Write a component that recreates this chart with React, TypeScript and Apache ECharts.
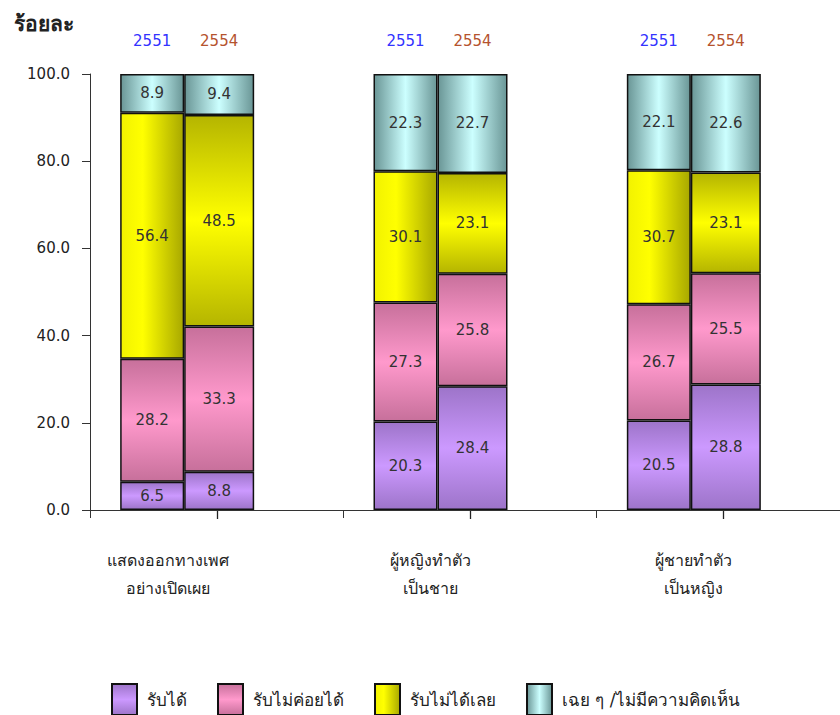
import React, { useEffect, useRef } from "react";
import * as echarts from "echarts";

const categories = [
  "แสดงออกทางเพศ\nอย่างเปิดเผย",
  "ผู้หญิงทำตัว\nเป็นชาย",
  "ผู้ชายทำตัว\nเป็นหญิง",
];
const years = ["2551", "2554"];
const responses = ["รับได้", "รับไม่ค่อยได้", "รับไม่ได้เลย", "เฉย ๆ /ไม่มีความคิดเห็น"];

const accept2551 = [6.5, 20.3, 20.5];
const accept2554 = [8.8, 28.4, 28.8];
const rarely2551 = [28.2, 27.3, 26.7];
const rarely2554 = [33.3, 25.8, 25.5];
const notAccept2551 = [56.4, 30.1, 30.7];
const notAccept2554 = [48.5, 23.1, 23.1];
const neutral2551 = [8.9, 22.3, 22.1];
const neutral2554 = [9.4, 22.7, 22.6];

const yTicks = [0, 20, 40, 60, 80, 100];

const FONT = "Tahoma, 'DejaVu Sans', 'Noto Sans', sans-serif";

const vGrad = (dark: string, light: string) =>
  new echarts.graphic.LinearGradient(0, 0, 0, 1, [
    { offset: 0, color: dark },
    { offset: 0.5, color: light },
    { offset: 1, color: dark },
  ]);
const hGrad = (dark: string, light: string) =>
  new echarts.graphic.LinearGradient(0, 0, 1, 0, [
    { offset: 0, color: dark },
    { offset: 0.5, color: light },
    { offset: 1, color: dark },
  ]);
const yellowH = new echarts.graphic.LinearGradient(0, 0, 1, 0, [
  { offset: 0, color: "#f2f200" },
  { offset: 0.35, color: "#ffff00" },
  { offset: 1, color: "#a8a800" },
]);

const fills2551 = [
  vGrad("#9d74c9", "#cc99ff"),
  vGrad("#c7709b", "#ff99cc"),
  yellowH,
  hGrad("#6a9696", "#ccffff"),
];
const fills2554 = [
  vGrad("#9d74c9", "#cc99ff"),
  vGrad("#c7709b", "#ff99cc"),
  vGrad("#b5b500", "#ffff00"),
  hGrad("#6a9696", "#ccffff"),
];

export default function App() {
  const ref = useRef<HTMLDivElement>(null);
  useEffect(() => {
    if (!ref.current) return;
    const chart = echarts.init(ref.current, undefined, { renderer: "svg" });
    const data2551 = [accept2551, rarely2551, notAccept2551, neutral2551];
    const data2554 = [accept2554, rarely2554, notAccept2554, neutral2554];
    const widths: Record<string, number> = { "2551": 64, "2554": 70 };

    const segLabel = {
      show: true,
      position: "inside",
      color: "#333",
      fontSize: 15,
      fontFamily: FONT,
      formatter: (p: any) => Number(p.value).toFixed(1),
    };

    const mk = (year: string, datasets: number[][], fills: any[]) =>
      datasets.map((d, i) => ({
        type: "bar",
        name: responses[i],
        stack: year,
        barWidth: widths[year],
        barGap: "0%",
        data: d,
        itemStyle: { color: fills[i], borderColor: "#111", borderWidth: 1.5 },
        label: segLabel,
        emphasis: { disabled: true },
      }));

    const yearColors: Record<string, string> = { "2551": "#3333ff", "2554": "#b5532e" };
    const yearSeries = years.map((y) => ({
      type: "bar",
      name: "y" + y,
      stack: y,
      barWidth: widths[y],
      barGap: "0%",
      data: categories.map(() => 0),
      itemStyle: { color: "transparent", borderWidth: 0 },
      label: {
        show: true,
        position: "top",
        distance: 26,
        color: yearColors[y],
        fontSize: 15,
        fontFamily: FONT,
        formatter: () => y,
      },
      silent: true,
    }));

    const padSeries = {
      type: "bar",
      name: "pad",
      stack: "pad",
      barWidth: 59,
      barGap: "0%",
      data: categories.map(() => 0),
      itemStyle: { color: "transparent", borderWidth: 0 },
      label: { show: false },
      silent: true,
    };

    // small tick marks at the centre of every category, placed by the axis scale
    const centreTicks = {
      type: "custom",
      name: "centreTicks",
      silent: true,
      clip: false,
      z: 10,
      data: categories.map((_, i) => [i, 0]),
      encode: { x: 0, y: 1 },
      renderItem: (params: any, api: any) => {
        const p = api.coord([api.value(0), api.value(1)]);
        const x = Math.round(p[0]) + 0.5;
        return {
          type: "line",
          z2: 100,
          shape: { x1: x, y1: p[1] + 1, x2: x, y2: p[1] + 9 },
          style: { stroke: "#222", lineWidth: 1.3 },
        };
      },
    };

    const shiftPad = [98, 80, 60];
    const rich: Record<string, any> = {};
    shiftPad.forEach((p, i) => {
      rich["g" + i] = {
        fontSize: 16,
        fontFamily: FONT,
        color: "#222",
        lineHeight: 28,
        padding: [0, p, 0, 0],
      };
    });

    const legendExtra = [10, 16, 0, 0];

    chart.setOption({
      animation: false,
      backgroundColor: "#fff",
      title: {
        text: "ร้อยละ",
        left: 9,
        top: 8,
        textStyle: { fontSize: 21, fontWeight: "bold", color: "#222", fontFamily: FONT },
      },
      legend: {
        data: responses.map((r, i) => ({
          name: r,
          textStyle: { padding: [0, legendExtra[i], 0, 5] },
        })),
        left: 106,
        top: 678,
        itemWidth: 25,
        itemHeight: 31,
        itemGap: 30,
        icon: "rect",
        selectedMode: false,
        textStyle: { fontSize: 17, color: "#222", fontFamily: FONT },
      },
      grid: { left: 90, top: 74, width: 760, bottom: 205, outerBoundsMode: "none" },
      xAxis: {
        type: "category",
        data: categories,
        axisLine: { lineStyle: { color: "#333", width: 1 } },
        axisTick: { show: true, length: 8, lineStyle: { color: "#333" } },
        axisLabel: {
          margin: 36,
          formatter: (v: string, idx: number) =>
            v
              .split("\n")
              .map((s) => `{g${idx}|${s}}`)
              .join("\n"),
          rich,
        },
      },
      yAxis: {
        type: "value",
        min: 0,
        max: 100,
        interval: 20,
        axisLine: { show: true, lineStyle: { color: "#333" } },
        axisTick: { show: true, length: 8, lineStyle: { color: "#333" } },
        splitLine: { show: false },
        axisLabel: {
          color: "#222",
          fontSize: 15,
          fontFamily: FONT,
          margin: 20,
          customValues: yTicks,
          formatter: (v: number) => v.toFixed(1),
        },
      },
      series: [
        ...mk("2551", data2551, fills2551),
        ...mk("2554", data2554, fills2554),
        ...yearSeries,
        padSeries,
        centreTicks,
      ],
    });
    return () => chart.dispose();
  }, []);
  return (
    <div
      ref={ref}
      style={{ position: "absolute", left: 0, top: 0, width: 840, height: 715 }}
    />
  );
}
